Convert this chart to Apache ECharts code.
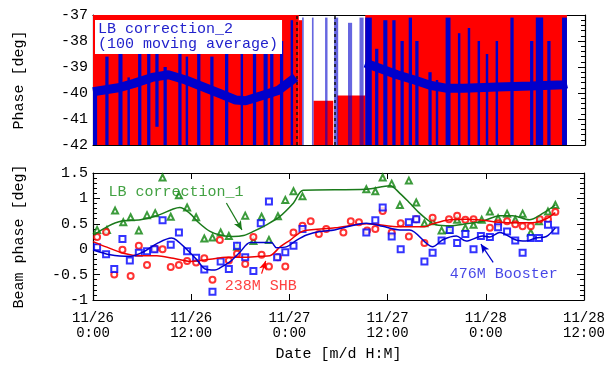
<!DOCTYPE html>
<html>
<head>
<meta charset="utf-8"/>
<title>Beam phase</title>
<script src="https://cdn.jsdelivr.net/npm/echarts@6/dist/echarts.min.js"></script>
<style>
html, body { margin: 0; padding: 0; background: #fff; }
#chart { width: 608px; height: 365px; }
</style>
</head>
<body>
<div id="chart"></div>
<script>
// time axis: hours since 11/26 0:00
var dateTicks = ['11/26\n0:00', '11/26\n12:00', '11/27\n0:00', '11/27\n12:00', '11/28\n0:00', '11/28\n12:00'];

// top panel: LB correction_2 raw data, read as bands [t0, t1, low, high]
var redBands = [
  [0, 25.1, -42, -37],
  [25.1, 25.5, -42, -37.2], [26.9, 29.3, -42, -40.3], [29.8, 33.2, -42, -40.1],
  [33.2, 57.8, -42, -37]
];
var blueStreaks = [
  [0, 0.5, -42, -39.9], [1.5, 1.9, -42, -38.6], [3.1, 3.6, -42, -37.2], [4.2, 4.5, -42, -39.4],
  [5.5, 5.9, -42, -38.4], [6.6, 7.0, -42, -38.5], [7.6, 8.0, -41.3, -38.5], [8.6, 9.0, -42, -39.0],
  [10.4, 10.8, -42, -38.0], [11.3, 11.6, -42, -38.6], [12.7, 13.1, -42, -37.2], [14.3, 14.7, -42, -38.6],
  [16.1, 16.5, -42, -38.5], [18.0, 18.3, -42, -38.4], [19.5, 19.9, -42, -38.4], [20.8, 21.3, -42, -37.2],
  [21.6, 22.0, -42, -38.0], [22.8, 23.2, -42, -38.0], [24.1, 24.4, -42, -37.2],
  [33.2, 34.0, -42, -37.1], [34.4, 34.8, -42, -38.3], [35.4, 35.9, -42, -37.2], [36.5, 36.9, -42, -37.2],
  [37.5, 37.9, -42, -38.0], [38.5, 38.9, -42, -37.1], [39.3, 39.7, -42, -38.0], [40.9, 41.3, -42, -39.2],
  [41.8, 42.1, -42, -39.5], [43.0, 43.6, -42, -37.1], [44.5, 44.8, -42, -37.7], [45.7, 46.0, -42, -37.5],
  [46.9, 47.2, -42, -38.0], [47.9, 48.2, -42, -38.5], [49.1, 49.4, -42, -38.0], [50.9, 51.3, -42, -37.1],
  [53.3, 53.7, -42, -38.0], [54.0, 54.9, -42, -37.1], [55.4, 55.8, -42, -38.0], [57.2, 57.8, -42, -37.1]
];
var blueSparse = [
  [25.5, 25.7, -42, -37.1], [26.7, 26.9, -42, -37.1], [28.3, 28.6, -42, -37.1],
  [29.4, 29.9, -42, -37.1], [31.1, 31.6, -42, -37.3], [32.5, 33.0, -42, -37.1]
];
var darkMarks = [24.9, 29.5];
// 100 moving average
var movingAvg = [
  [0, -39.95], [3.1, -39.8], [5.0, -39.63], [7.2, -39.4], [9.2, -39.3], [11.3, -39.5], [13.3, -39.75],
  [15.3, -40.0], [17.4, -40.27], [18.6, -40.3], [20.6, -40.1], [22.6, -39.9], [24.7, -39.4], '-',
  [33.2, -38.85], [37.1, -39.3], [39.2, -39.5], [41.1, -39.7], [43.2, -39.82], [45.2, -39.82],
  [49.3, -39.77], [53.4, -39.73], [57.4, -39.68], [57.8, -39.65]
];

// bottom panel
var lbPts = [
  [0.5, 0.38], [1.7, 0.38], [2.7, 0.76], [3.7, 0.53], [4.6, 0.63], [5.6, 0.37], [6.6, 0.67], [7.6, 0.71],
  [8.5, 1.41], [9.5, 0.64], [10.5, 1.06], [11.5, 0.82], [12.6, 0.63], [13.6, 0.21], [14.6, 0.23], [15.6, 0.33],
  [16.6, 0.26], [17.6, 0.05], [18.6, 0.66], [19.6, 0.16], [20.6, 0.64], [21.5, 0.18], [22.6, 0.65], [23.5, 0.97],
  [24.5, 1.14], [25.6, 1.04], [33.4, 1.18], [34.5, 1.14], [35.4, 1.41], [36.5, 1.29], [37.5, 0.87], [38.6, 1.35],
  [39.5, 0.92], [40.5, 0.51], [41.5, 0.55], [42.6, 0.37], [43.5, 0.38], [44.5, 0.58], [45.5, 0.42], [46.5, 0.48],
  [47.5, 0.58], [48.5, 0.74], [49.5, 0.61], [50.6, 0.70], [51.6, 0.58], [52.5, 0.70], [53.5, 0.33], [54.5, 0.55],
  [55.6, 0.74], [56.5, 0.87]
];
var lbFit = [
  [0.1, 0.28], [1.8, 0.45], [3.4, 0.55], [5.8, 0.58], [7.8, 0.66], [9.8, 0.79], [10.6, 0.82], [11.8, 0.71],
  [13.0, 0.51], [14.3, 0.35], [15.5, 0.28], [17.1, 0.25], [18.4, 0.27], [19.6, 0.35], [21.2, 0.48], [22.8, 0.64],
  [24.5, 0.91], [25.7, 1.16], [33.4, 1.18], [36.3, 1.25], [37.5, 1.1], [38.7, 0.91], [39.9, 0.71], [41.1, 0.55],
  [41.9, 0.48], [43.6, 0.46], [45.6, 0.5], [47.6, 0.55], [49.7, 0.66], [51.3, 0.66], [53.3, 0.58], [55, 0.71],
  [56.5, 0.87]
];
var shbPts = [
  [0.5, 0.24], [1.6, 0.34], [2.6, -0.5], [3.6, -0.01], [4.6, -0.53], [5.6, 0.07], [6.6, -0.31], [7.6, 0.01],
  [8.5, 0.0], [9.5, -0.35], [10.5, -0.31], [11.5, -0.23], [12.6, -0.26], [13.6, -0.18], [14.6, -0.6], [15.5, 0.18],
  [16.6, -0.22], [17.6, -0.09], [18.6, -0.29], [19.6, 0.24], [20.6, -0.11], [21.5, -0.34], [22.6, -0.16], [23.5, -0.34],
  [24.5, 0.33], [25.6, 0.46], [26.6, 0.55], [27.6, 0.30], [28.5, 0.40], [30.6, 0.33], [31.5, 0.55], [32.5, 0.53],
  [33.5, 0.37], [34.5, 0.40], [35.4, 0.75], [36.5, 0.33], [37.6, 0.51], [38.6, 0.25], [39.5, 0.59], [40.5, 0.12],
  [41.5, 0.62], [43.5, 0.59], [44.5, 0.66], [45.5, 0.58], [46.5, 0.59], [48.5, 0.42], [49.5, 0.51], [50.6, 0.55],
  [51.6, 0.49], [52.5, 0.45], [53.5, 0.45], [54.6, 0.59], [55.6, 0.59], [56.5, 0.73]
];
var shbFit = [
  [0, 0.15], [1.7, 0.04], [3.7, -0.08], [5.8, -0.13], [7.8, -0.13], [9.8, -0.18], [11.9, -0.24], [14.3, -0.2],
  [16.3, -0.16], [18.4, -0.16], [20.4, -0.14], [21.6, -0.13], [22.9, 0.05], [24.1, 0.18], [25.7, 0.36], [29.6, 0.42],
  [33.4, 0.5], [37.5, 0.44], [40.5, 0.44], [41.5, 0.5], [43.6, 0.58], [45.6, 0.59], [47.6, 0.57], [49.7, 0.53],
  [51.7, 0.52], [53.7, 0.52], [55.4, 0.6], [56.5, 0.72]
];
var boosterPts = [
  [0.5, 0.04], [1.6, -0.1], [2.6, -0.39], [3.6, 0.2], [4.5, -0.22], [5.6, -0.07], [6.6, -0.04], [7.5, 0.0],
  [8.5, 0.57], [9.5, 0.09], [10.5, 0.33], [11.5, -0.04], [12.6, -0.17], [13.6, -0.4], [14.6, -0.84], [15.6, -0.24],
  [16.6, -0.39], [17.6, 0.07], [18.6, -0.16], [19.6, -0.43], [20.5, 0.51], [21.5, 0.94], [22.5, -0.16], [23.5, -0.06],
  [24.5, 0.07], [25.6, 0.4], [33.4, 0.33], [34.5, 0.57], [35.4, 0.82], [36.5, 0.25], [37.6, 0.0], [38.6, 0.53],
  [39.5, 0.59], [40.5, -0.24], [41.5, -0.07], [42.6, 0.17], [43.6, 0.38], [44.5, 0.12], [45.5, 0.3], [46.5, 0.0],
  [47.4, 0.26], [48.5, 0.24], [49.5, 0.43], [50.6, 0.35], [51.6, 0.17], [52.5, -0.07], [53.5, 0.22], [54.5, 0.22],
  [55.6, 0.48], [56.5, 0.37]
];
var boosterFit = [
  [0, -0.01], [2.1, -0.11], [4.6, -0.14], [6.2, -0.05], [7.8, 0.11], [9.6, 0.22], [10.2, 0.18], [11.5, -0.01],
  [12.7, -0.21], [13.7, -0.39], [14.9, -0.41], [15.5, -0.37], [16.8, -0.24], [18.0, -0.05], [19.2, 0.13], [21.8, 0.13],
  [22.4, 0.03], [23.7, 0.05], [24.9, 0.18], [26.1, 0.28], [27.7, 0.35], [29.5, 0.38], [33.4, 0.51], [35.4, 0.45],
  [37.5, 0.38], [38.7, 0.38], [41.5, 0.05], [42.8, 0.19], [44.4, 0.26], [45.6, 0.16], [47.6, 0.26], [48.5, 0.24],
  [49.7, 0.33], [51.7, 0.18], [52.9, 0.16], [54.1, 0.22], [55.4, 0.25], [56.5, 0.42]
];

// annotations
var noteText = ['LB correction_1', '238M SHB', '476M Booster'];
var notePos = [[10.15, 1.13], [20.5, -0.72], [50.2, -0.48]];
var arrowFrom = [[16.3, 0.91], [20.6, -0.48], [48.9, -0.26]];
var arrowTo = [[18.2, 0.38], [21.1, -0.23], [47.4, 0.1]];

var FONT = 'Liberation Mono';
var GREEN = '#0a820a', RED = '#ff0000', BLUE = '#0000ff';

var chart = echarts.init(document.getElementById('chart'));

function bandRender(color, opacity) {
  return function (params, api) {
    var a = api.coord([api.value(0), api.value(3)]);
    var b = api.coord([api.value(1), api.value(2)]);
    var cs = params.coordSys;
    var shape = echarts.graphic.clipRectByRect(
      { x: a[0], y: a[1], width: b[0] - a[0], height: b[1] - a[1] },
      { x: cs.x, y: cs.y, width: cs.width, height: cs.height });
    if (!shape) return;
    return { type: 'rect', shape: shape, style: { fill: color, opacity: opacity } };
  };
}

function xAx(grid, pos, labels) {
  return {
    type: 'value', gridIndex: grid, position: pos, min: 0, max: 60, interval: 12,
    axisLine: { show: true, onZero: false, lineStyle: { color: '#000', width: 1.2 } },
    axisTick: { show: true, inside: true, length: 6, lineStyle: { color: '#000' } },
    axisLabel: {
      show: labels, margin: 11, fontFamily: FONT, fontSize: 14, color: '#000', lineHeight: 15,
      formatter: function (v) { return dateTicks[Math.round(v / 12)]; }
    },
    splitLine: { show: false }
  };
}

function yAx(grid, pos, min, max, labels, name) {
  return {
    type: 'value', gridIndex: grid, position: pos, min: min, max: max,
    interval: grid === 0 ? 1 : 0.5,
    name: name, nameLocation: 'middle', nameGap: 66,
    nameTextStyle: { fontFamily: FONT, fontSize: 15, color: '#000' },
    axisLine: { show: true, onZero: false, lineStyle: { color: '#000', width: 1.2 } },
    axisTick: { show: true, inside: true, length: 7, lineStyle: { color: '#000' } },
    minorTick: { show: true, splitNumber: 5, length: 4, lineStyle: { color: '#000' } },
    axisLabel: { show: labels, margin: 5, fontFamily: FONT, fontSize: 15, color: '#000' },
    splitLine: { show: false }
  };
}

function arrowLine(i, color) {
  return {
    silent: true, symbol: ['none', 'arrow'], symbolSize: [6, 9],
    label: { show: false },
    lineStyle: { color: color, width: 1.2, type: 'solid' },
    data: [[{ coord: arrowFrom[i] }, { coord: arrowTo[i] }]]
  };
}

var noteColors = ['#138a13', '#ff1010', '#1515e0'];

var option = {
  animation: false,
  backgroundColor: '#fff',
  title: {
    text: 'LB correction_2\n(100 moving average)',
    left: 95, top: 20, padding: [2, 4, 2, 3],
    backgroundColor: '#fff',
    textStyle: { fontFamily: FONT, fontSize: 15, fontWeight: 'normal', color: '#2222cc', lineHeight: 15 }
  },
  grid: [
    { left: 93, right: 23, top: 15, height: 130 },
    { left: 93, right: 23, top: 173, height: 127 }
  ],
  xAxis: [
    xAx(0, 'bottom', false), xAx(0, 'top', false),
    Object.assign(xAx(1, 'bottom', true), {
      name: 'Date [m/d H:M]', nameLocation: 'middle', nameGap: 47,
      nameTextStyle: { fontFamily: FONT, fontSize: 15, color: '#000' }
    }),
    xAx(1, 'top', false)
  ],
  yAxis: [
    yAx(0, 'left', -42, -37, true, 'Phase [deg]'), yAx(0, 'right', -42, -37, false, ''),
    yAx(1, 'left', -1, 1.5, true, 'Beam phase [deg]'), yAx(1, 'right', -1, 1.5, false, '')
  ],
  series: [
    {
      type: 'custom', xAxisIndex: 0, yAxisIndex: 0, silent: true,
      renderItem: bandRender('#ff0000', 1), encode: { x: [0, 1], y: [2, 3] }, data: redBands
    },
    {
      type: 'custom', xAxisIndex: 0, yAxisIndex: 0, silent: true,
      renderItem: bandRender('#0000cc', 1), encode: { x: [0, 1], y: [2, 3] }, data: blueStreaks
    },
    {
      type: 'custom', xAxisIndex: 0, yAxisIndex: 0, silent: true,
      renderItem: bandRender('#0000cc', 0.6), encode: { x: [0, 1], y: [2, 3] }, data: blueSparse,
      markLine: {
        silent: true, symbol: ['none', 'none'], label: { show: false },
        lineStyle: { color: '#111', width: 1.5, type: [3, 3] },
        data: darkMarks.map(function (t) { return { xAxis: t }; })
      }
    },
    {
      type: 'line', xAxisIndex: 0, yAxisIndex: 0, data: movingAvg, showSymbol: false,
      connectNulls: false, lineStyle: { color: '#0000cc', width: 9 }, z: 5
    },
    {
      type: 'line', xAxisIndex: 2, yAxisIndex: 2, data: lbFit, smooth: 0.3, showSymbol: false,
      lineStyle: { color: '#1a7a1a', width: 1.5 }, markLine: arrowLine(0, '#1a7a1a')
    },
    {
      type: 'line', xAxisIndex: 2, yAxisIndex: 2, data: shbFit, smooth: 0.3, showSymbol: false,
      lineStyle: { color: '#ee0000', width: 1.5 }, markLine: arrowLine(1, RED)
    },
    {
      type: 'line', xAxisIndex: 2, yAxisIndex: 2, data: boosterFit, smooth: 0.3, showSymbol: false,
      lineStyle: { color: '#0000cc', width: 1.5 }, markLine: arrowLine(2, '#0000cc')
    },
    {
      type: 'scatter', xAxisIndex: 2, yAxisIndex: 2, data: lbPts, symbol: 'emptyTriangle', symbolSize: 6,
      itemStyle: { color: GREEN, borderWidth: 1.3 }
    },
    {
      type: 'scatter', xAxisIndex: 2, yAxisIndex: 2, data: shbPts, symbol: 'emptyCircle', symbolSize: 6,
      itemStyle: { color: RED, borderWidth: 1.2 }
    },
    {
      type: 'scatter', xAxisIndex: 2, yAxisIndex: 2, data: boosterPts, symbol: 'emptyRect', symbolSize: 6,
      itemStyle: { color: BLUE, borderWidth: 1.2 }
    },
    {
      type: 'scatter', xAxisIndex: 2, yAxisIndex: 2, silent: true, symbolSize: 0,
      data: notePos.map(function (p, i) {
        return {
          value: p,
          label: {
            show: true, position: 'inside', formatter: noteText[i],
            fontFamily: FONT, fontSize: 15, color: noteColors[i]
          }
        };
      }),
      z: 6
    }
  ]
};
chart.setOption(option);
</script>
</body>
</html>
